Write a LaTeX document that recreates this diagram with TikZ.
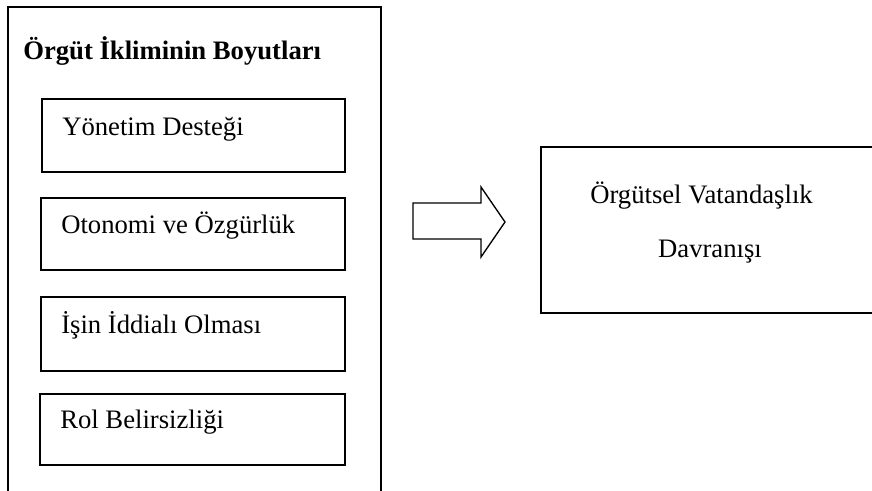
\documentclass[tikz,border=0pt]{standalone}
\usepackage{fontspec}
\setmainfont{Liberation Serif}
\begin{document}
\begin{tikzpicture}[
  x=0.75pt, y=-0.75pt,
  outer/.style={line width=1.7pt},
  itembox/.style={line width=1.4pt},
  arrowshape/.style={line width=1pt, line join=miter},
  txt/.style={anchor=base west, inner sep=0pt, font=\fontsize{20}{24}\selectfont},
  ctxt/.style={anchor=base, inner sep=0pt, font=\fontsize{20}{24}\selectfont}
]
\useasboundingbox (0,0) rectangle (872,490);

% left frame, open at the bottom
\draw[outer] (8,492) -- (8,7) -- (381,7) -- (381,492);
\node[txt, font=\fontsize{20}{24}\selectfont\bfseries] (title) at (23,59) {Örgüt İkliminin Boyutları};

% dimension boxes
\draw[itembox] (42,99) rectangle (345,172);
\node[txt] (d1) at (62,135) {Yönetim Desteği};
\draw[itembox] (41,198) rectangle (345,270);
\node[txt] (d2) at (61,233) {Otonomi ve Özgürlük};
\draw[itembox] (41,297) rectangle (345,371);
\node[txt] (d3) at (61,333) {İşin İddialı Olması};
\draw[itembox] (40,394) rectangle (345,465);
\node[txt] (d4) at (60,428) {Rol Belirsizliği};

% block arrow
\draw[arrowshape] (413,203) -- (481,203) -- (481,187) -- (505,222)
  -- (481,257) -- (481,239) -- (413,239) -- cycle;

% outcome box, its right side runs past the page edge
\draw[outer] (880,147) -- (541,147) -- (541,313) -- (880,313);
\node[ctxt] (o1) at (701.5,203) {Örgütsel Vatandaşlık};
\node[ctxt] (o2) at (710,257) {Davranışı};
\end{tikzpicture}
\end{document}
